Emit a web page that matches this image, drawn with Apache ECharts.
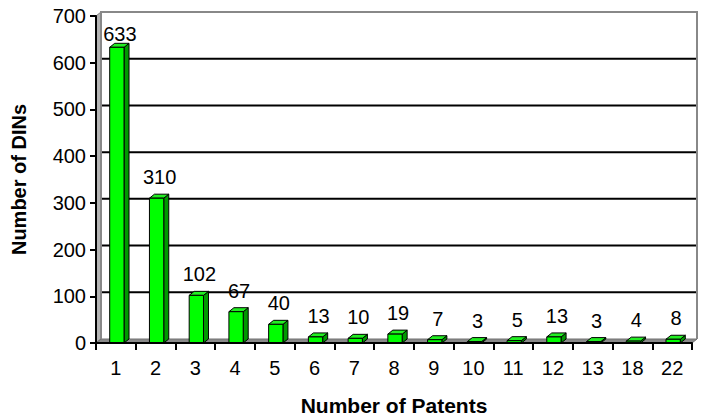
<!DOCTYPE html>
<html>
<head>
<meta charset="utf-8">
<script src="https://cdn.jsdelivr.net/npm/echarts@6/dist/echarts.min.js"></script>
<style>
html,body{margin:0;padding:0;background:#fff;}
#chart{width:701px;height:417px;}
</style>
</head>
<body>
<div id="chart"></div>
<script>
const categories = ['1','2','3','4','5','6','7','8','9','10','11','12','13','18','22'];
const dinCounts = [633,310,102,67,40,13,10,19,7,3,5,13,3,4,8];
const yTicks = [0,100,200,300,400,500,600,700];

const FONT = 'Arial, "Liberation Sans", sans-serif';
const DX = 5, DY = -4;

const chart = echarts.init(document.getElementById('chart'), null, {renderer: 'svg'});

function renderWalls(params, api) {
  if (params.dataIndex !== 0) return;
  const cs = params.coordSys;
  const x = cs.x, y = cs.y, w = cs.width, h = cs.height;
  const children = [];
  // left wall
  children.push({type:'polygon', shape:{points:[[x,y+h],[x+DX,y+h+DY],[x+DX,y+DY],[x,y]]},
    style:{fill:'#b4b4b4', stroke:'#808080', lineWidth:1}});
  // floor
  children.push({type:'polygon', shape:{points:[[x,y+h],[x+w,y+h],[x+w+DX,y+h+DY],[x+DX,y+h+DY]]},
    style:{fill:'#8a8a8a', stroke:'#707070', lineWidth:1}});
  // gridlines on back wall
  yTicks.forEach(function(v){
    if (v === 0 || v === yTicks[yTicks.length-1]) return;
    const py = api.coord([0, v])[1] + DY;
    children.push({type:'line', shape:{x1:x+DX, y1:py, x2:x+w+DX, y2:py},
      style:{stroke:'#000', lineWidth:2}});
  });
  // back wall border
  children.push({type:'polyline', shape:{points:[[x+DX,y+h+DY],[x+DX,y+DY],[x+w+DX,y+DY],[x+w+DX,y+h+DY]]},
    style:{fill:null, stroke:'#888888', lineWidth:2}});
  return {type:'group', children:children};
}

function renderBar(params, api) {
  const cs = params.coordSys;
  const i = api.value(0), v = api.value(1);
  const top = api.coord([i, v]);
  const base = api.coord([i, 0]);
  const bw = api.size([1, 0])[0] * 0.36;
  const x0 = top[0] - bw / 2 + 1;
  const x1 = x0 + bw;
  const yt = top[1], yb = base[1];
  const labelY = Math.max(yt + DY - 7, cs.y + 28);
  return {type:'group', children:[
    {type:'polygon', shape:{points:[[x1,yt],[x1+DX,yt+DY],[x1+DX,yb+DY],[x1,yb]]},
      style:{fill:'#009900', stroke:'#000', lineWidth:1}},
    {type:'polygon', shape:{points:[[x0,yt],[x1,yt],[x1+DX,yt+DY],[x0+DX,yt+DY]]},
      style:{fill:'#22ee22', stroke:'#000', lineWidth:1}},
    {type:'rect', shape:{x:x0, y:yt, width:bw, height:yb-yt},
      style:{fill:'#00ff00', stroke:'#000', lineWidth:1}},
    {type:'text', style:{text:String(v), x:top[0]+4, y:labelY, align:'center', verticalAlign:'bottom',
      fontSize:20, fontFamily:FONT, fill:'#000'}}
  ]};
}

chart.setOption({
  animation: false,
  backgroundColor: '#fff',
  grid: {left: 96, right: 9, top: 16, bottom: 74, containLabel: false, outerBoundsMode: 'none'},
  xAxis: {
    type: 'category',
    data: categories,
    z: 5,
    name: 'Number of Patents',
    nameLocation: 'middle',
    nameGap: 52,
    nameTextStyle: {fontSize: 21, fontWeight: 'bold', fontFamily: FONT, color: '#000'},
    axisLine: {lineStyle: {color: '#000', width: 2}},
    axisTick: {show: true, length: 7, alignWithLabel: false, lineStyle: {color: '#000', width: 2}},
    axisLabel: {fontSize: 20, fontFamily: FONT, color: '#000', margin: 15}
  },
  yAxis: {
    type: 'value',
    min: 0, max: 700, interval: 100,
    z: 5,
    name: 'Number of DINs',
    nameLocation: 'middle',
    nameGap: 67,
    nameRotate: 90,
    nameTextStyle: {fontSize: 20, fontWeight: 'bold', fontFamily: FONT, color: '#000'},
    axisLine: {show: true, lineStyle: {color: '#000', width: 2}},
    axisTick: {show: true, length: 6, lineStyle: {color: '#000', width: 2}},
    axisLabel: {fontSize: 20, fontFamily: FONT, color: '#000', margin: 10},
    splitLine: {show: false}
  },
  series: [
    {type: 'custom', z: 1, silent: true, renderItem: renderWalls, data: [[0, 0]], encode: {x: 0, y: 1}, clip: false},
    {type: 'custom', z: 3, renderItem: renderBar, data: dinCounts.map(function(v, i){ return [i, v]; }), encode: {x: 0, y: 1}, clip: false}
  ]
});
</script>
</body>
</html>
